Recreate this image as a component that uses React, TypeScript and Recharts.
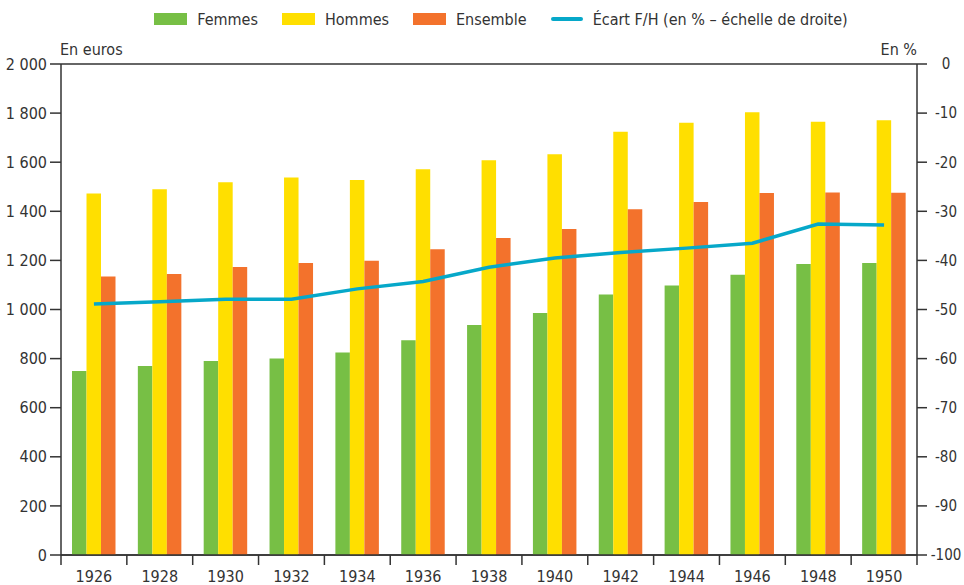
import { ComposedChart, Bar, Line, XAxis, YAxis, CartesianGrid, Legend } from 'recharts';

const years = ['1926', '1928', '1930', '1932', '1934', '1936', '1938', '1940', '1942', '1944', '1946', '1948', '1950'];
const femmes = [750, 770, 790, 800, 825, 875, 937, 986, 1061, 1098, 1142, 1185, 1189];
const hommes = [1473, 1490, 1518, 1538, 1527, 1571, 1608, 1632, 1724, 1761, 1803, 1765, 1771];
const ensemble = [1134, 1145, 1173, 1189, 1199, 1245, 1291, 1328, 1408, 1438, 1475, 1477, 1476];
const ecart = [-48.9, -48.4, -47.9, -47.9, -45.8, -44.3, -41.4, -39.5, -38.4, -37.5, -36.5, -32.6, -32.8];

const leftTicks = [0, 200, 400, 600, 800, 1000, 1200, 1400, 1600, 1800, 2000];
const rightTicks = [-100, -90, -80, -70, -60, -50, -40, -30, -20, -10, 0];

const legendItems = [
  { label: 'Femmes', color: '#77bf45', kind: 'box' },
  { label: 'Hommes', color: '#ffdf00', kind: 'box' },
  { label: 'Ensemble', color: '#f3722c', kind: 'box' },
  { label: 'Écart F/H (en % – échelle de droite)', color: '#06a8c9', kind: 'line' },
];

const data = years.map((year, i) => ({
  year,
  femmes: femmes[i],
  hommes: hommes[i],
  ensemble: ensemble[i],
  ecart: ecart[i],
}));

const FONT = "'Liberation Sans Narrow', 'DejaVu Sans Condensed', sans-serif";
const INK = '#333333';
const W = 964;
const H = 585;
const LEFT_W = 61;
const RIGHT_W = 47;
const HALF_BAND = (W - LEFT_W - RIGHT_W) / years.length / 2;

const fmtEuro = (v: number) => String(v).replace(/\B(?=(\d{3})+(?!\d))/g, ' ');

function YearTick(props: any) {
  const { x, y, payload, index } = props;
  const axisY = y - 10;
  return (
    <g>
      <line x1={x - HALF_BAND} y1={axisY} x2={x - HALF_BAND} y2={axisY + 10} stroke={INK} strokeWidth={1.5} />
      {index === years.length - 1 && (
        <line x1={x + HALF_BAND} y1={axisY} x2={x + HALF_BAND} y2={axisY + 10} stroke={INK} strokeWidth={1.5} />
      )}
      <text x={x} y={y + 17} textAnchor="middle" fill={INK} fontSize={16} fontFamily={FONT}>
        {payload.value}
      </text>
    </g>
  );
}

function LegendContent() {
  return (
    <div style={{ display: 'flex', justifyContent: 'center', height: 30, fontFamily: FONT, fontSize: 16, color: INK, paddingLeft: 38 }}>
      {legendItems.map((it, i) => (
        <div
          key={it.label}
          style={{ display: 'flex', alignItems: 'center', marginRight: i === legendItems.length - 1 ? 0 : 24 }}
        >
          {it.kind === 'box' ? (
            <span style={{ display: 'inline-block', width: 33, height: 12, background: it.color, marginRight: 10 }} />
          ) : (
            <span style={{ display: 'inline-block', width: 32, height: 4, borderRadius: 2, background: it.color, marginRight: 10 }} />
          )}
          <span>{it.label}</span>
        </div>
      ))}
    </div>
  );
}

export default function App() {
  return (
    <div style={{ position: 'absolute', left: 0, top: 0, width: W, height: H, background: '#fff' }}>
      <ComposedChart
        width={W}
        height={H}
        data={data}
        margin={{ top: 34, right: 0, left: 0, bottom: 0 }}
        barGap={0}
      >
        <Legend verticalAlign="top" content={<LegendContent />} wrapperStyle={{ top: 4, left: 0, width: W }} />
        <CartesianGrid vertical={false} stroke={INK} strokeWidth={1.5} />
        <XAxis
          dataKey="year"
          height={30}
          tickLine={false}
          tickSize={0}
          tickMargin={10}
          axisLine={{ stroke: INK, strokeWidth: 1.5 }}
          tick={<YearTick />}
          interval={0}
        />
        <YAxis
          yAxisId="left"
          width={LEFT_W}
          domain={[0, 2000]}
          ticks={leftTicks}
          tickFormatter={fmtEuro}
          tickSize={11}
          tickMargin={3}
          axisLine={{ stroke: INK, strokeWidth: 1.5 }}
          tickLine={{ stroke: INK, strokeWidth: 1.5 }}
          tick={{ fill: INK, fontSize: 16, fontFamily: FONT }}
          label={{
            content: ({ viewBox }: any) => (
              <text x={viewBox.x + viewBox.width - 1} y={viewBox.y - 9} fill={INK} fontSize={16} fontFamily={FONT}>
                En euros
              </text>
            ),
          }}
        />
        <YAxis
          yAxisId="right"
          orientation="right"
          width={RIGHT_W}
          domain={[-100, 0]}
          ticks={rightTicks}
          tickSize={10}
          tickMargin={19}
          axisLine={{ stroke: INK, strokeWidth: 1.5 }}
          tickLine={{ stroke: INK, strokeWidth: 1.5 }}
          tick={{ fill: INK, fontSize: 15, fontFamily: FONT, textAnchor: 'middle' }}
          label={{
            content: ({ viewBox }: any) => (
              <text x={viewBox.x} y={viewBox.y - 9} textAnchor="end" fill={INK} fontSize={16} fontFamily={FONT}>
                En %
              </text>
            ),
          }}
        />
        <Bar yAxisId="left" dataKey="femmes" name="Femmes" fill="#77bf45" barSize={14.5} isAnimationActive={false} />
        <Bar yAxisId="left" dataKey="hommes" name="Hommes" fill="#ffdf00" barSize={14.5} isAnimationActive={false} />
        <Bar yAxisId="left" dataKey="ensemble" name="Ensemble" fill="#f3722c" barSize={14.5} isAnimationActive={false} />
        <Line
          yAxisId="right"
          dataKey="ecart"
          name="Écart F/H (en % – échelle de droite)"
          type="linear"
          stroke="#06a8c9"
          strokeWidth={3.5}
          dot={false}
          isAnimationActive={false}
        />
      </ComposedChart>
    </div>
  );
}
